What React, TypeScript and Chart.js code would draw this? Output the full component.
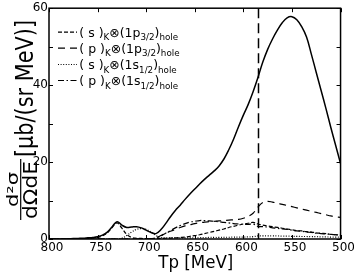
import React, { useEffect, useRef } from "react";
import { Chart, registerables } from "chart.js";

Chart.register(...registerables);

// ---------- data ----------
const TP = [
  800, 795, 790, 785, 780, 775, 770, 765, 760, 755,
  750, 745, 740, 735, 730, 725, 720, 715, 710, 705,
  700, 695, 690, 685, 680, 675, 670, 665, 660, 655,
  650, 645, 640, 635, 630, 625, 620, 615, 610, 605,
  600, 595, 590, 585, 580, 575, 570, 565, 560, 555,
  550, 545, 540, 535, 530, 525, 520, 515, 510, 505,
  500,
];

const total = [
  0, 0, 0, 0, 0.05, 0.1, 0.15, 0.2, 0.3, 0.4,
  0.6, 1.0, 1.8, 3.2, 4.5, 3.6, 3.0, 3.1, 3.2, 2.9,
  2.3, 1.7, 1.4, 2.4, 4.0, 5.8, 7.4, 8.8, 10.3, 11.7,
  13.0, 14.3, 15.5, 16.6, 17.7, 19.0, 20.8, 23.2, 26.0, 29.2,
  32.2, 35.0, 38.3, 42.0, 46.0, 49.3, 52.0, 54.3, 56.2, 57.5,
  57.8, 57.0, 55.2, 52.5, 48.0, 43.3, 38.6, 33.9, 29.0, 24.3,
  19.6,
];

// (s)K ⊗ (1p3/2)hole
const sP32 = [
  0, 0, 0, 0, 0, 0, 0, 0, 0.1, 0.2,
  0.4, 0.8, 1.6, 3.0, 4.2, 2.8, 1.2, 0.4, 0.2, 0.15,
  0.1, 0.1, 0.1, 0.15, 0.2, 0.25, 0.3, 0.4, 0.5, 0.7,
  0.9, 1.1, 1.4, 1.7, 2.0, 2.3, 2.6, 3.0, 3.3, 3.6,
  3.9, 4.1, 4.3, 3.9, 3.6, 3.4, 3.2, 3.0, 2.8, 2.6,
  2.4, 2.2, 2.1, 1.9, 1.8, 1.6, 1.5, 1.4, 1.2, 1.1,
  1.0,
];

// (p)K ⊗ (1p3/2)hole
const pP32 = [
  0, 0, 0, 0, 0, 0, 0, 0, 0, 0,
  0, 0, 0, 0, 0, 0, 0, 0, 0, 0,
  0, 0.05, 0.3, 0.9, 1.5, 2.0, 2.5, 3.0, 3.4, 3.7,
  4.0, 4.2, 4.4, 4.5, 4.6, 4.7, 4.8, 4.9, 5.0, 5.1,
  5.4, 5.9, 6.7, 8.3, 9.5, 9.8, 9.6, 9.3, 9.0, 8.7,
  8.4, 8.1, 7.8, 7.5, 7.2, 6.9, 6.6, 6.3, 6.0, 5.8,
  5.6,
];

// (s)K ⊗ (1s1/2)hole
const sS12 = [
  0, 0, 0, 0, 0, 0, 0, 0, 0, 0,
  0, 0, 0, 0, 0, 0.2, 0.9, 1.8, 2.5, 2.7,
  2.5, 1.8, 0.9, 0.4, 0.3, 0.3, 0.3, 0.3, 0.3, 0.3,
  0.3, 0.35, 0.35, 0.4, 0.4, 0.4, 0.45, 0.45, 0.5, 0.5,
  0.5, 0.55, 0.6, 0.8, 0.8, 0.8, 0.8, 0.8, 0.75, 0.75,
  0.7, 0.7, 0.65, 0.65, 0.6, 0.6, 0.55, 0.55, 0.5, 0.5,
  0.5,
];

// (p)K ⊗ (1s1/2)hole
const pS12 = [
  0, 0, 0, 0, 0, 0, 0, 0, 0, 0,
  0, 0, 0, 0, 0, 0, 0, 0, 0, 0,
  0, 0.1, 0.3, 0.8, 1.5, 2.2, 2.9, 3.5, 4.0, 4.4,
  4.6, 4.8, 4.8, 4.7, 4.6, 4.5, 4.3, 4.2, 4.0, 3.9,
  3.8, 3.8, 3.9, 3.3, 3.2, 3.1, 2.9, 2.8, 2.6, 2.5,
  2.3, 2.1, 2.0, 1.8, 1.7, 1.5, 1.4, 1.3, 1.2, 1.1,
  1.0,
];

const xTickValues = [800, 750, 700, 650, 600, 550, 500];
const yMinorTicks = [0, 10, 20, 30, 40, 50, 60];
const thresholdTp = 585;

const xTitle = "Tp [MeV]";
const yUnit = "[μb/(sr MeV)]";
const yNumer = "d²σ";
const yDenom = "dΩdE";

type Seg = [string, boolean];
const legendRows: Seg[][] = [
  [["( s )", false], ["K", true], ["⊗", false], ["(1p", false], ["3/2", true], [")", false], ["hole", true]],
  [["( p )", false], ["K", true], ["⊗", false], ["(1p", false], ["3/2", true], [")", false], ["hole", true]],
  [["( s )", false], ["K", true], ["⊗", false], ["(1s", false], ["1/2", true], [")", false], ["hole", true]],
  [["( p )", false], ["K", true], ["⊗", false], ["(1s", false], ["1/2", true], [")", false], ["hole", true]],
];

const FONT = "'DejaVu Sans', sans-serif";

const dashShort = [4, 2];
const dashLong = [7, 5];
const dashDot = [1, 1.6];
const dashDashDot = [6, 2.5, 1.5, 2.5];
const legendDashes = [dashShort, dashLong, dashDot, dashDashDot];

function pts(vals: number[]) {
  return TP.map((x, i) => ({ x, y: vals[i] }));
}

function drawRotFit(
  ctx: CanvasRenderingContext2D,
  text: string,
  cy: number,
  baseX: number,
  len: number,
  asc: number,
  refChar: string
) {
  ctx.save();
  ctx.font = `20px ${FONT}`;
  const w = ctx.measureText(text).width;
  const a = ctx.measureText(refChar).actualBoundingBoxAscent || 15;
  ctx.translate(baseX, cy);
  ctx.rotate(-Math.PI / 2);
  ctx.scale(len / w, asc / a);
  ctx.textAlign = "center";
  ctx.textBaseline = "alphabetic";
  ctx.fillStyle = "#000";
  ctx.fillText(text, 0, 0);
  ctx.restore();
}

const overlay = {
  id: "overlay",
  afterDatasetsDraw(chart: any) {
    const ctx: CanvasRenderingContext2D = chart.ctx;
    const { left, right, top, bottom } = chart.chartArea;
    const xs = chart.scales.x;
    const ys = chart.scales.y;

    // threshold vertical dashed line
    ctx.save();
    const tx = Math.round(xs.getPixelForValue(thresholdTp)) + 0.5;
    ctx.strokeStyle = "#000";
    ctx.lineWidth = 1.5;
    ctx.setLineDash([10, 5]);
    ctx.beginPath();
    ctx.moveTo(tx, top);
    ctx.lineTo(tx, bottom);
    ctx.stroke();
    ctx.restore();

    // frame
    ctx.save();
    ctx.strokeStyle = "#000";
    ctx.lineWidth = 1.5;
    ctx.strokeRect(left, top, right - left, bottom - top);
    // inward ticks
    ctx.lineWidth = 1;
    ctx.beginPath();
    const tl = 4;
    for (const v of xTickValues) {
      const px = Math.round(xs.getPixelForValue(v)) + 0.5;
      ctx.moveTo(px, bottom);
      ctx.lineTo(px, bottom - tl);
      ctx.moveTo(px, top);
      ctx.lineTo(px, top + tl);
    }
    for (const v of yMinorTicks) {
      const py = Math.round(ys.getPixelForValue(v)) + 0.5;
      ctx.moveTo(left, py);
      ctx.lineTo(left + tl, py);
      ctx.moveTo(right, py);
      ctx.lineTo(right - tl, py);
    }
    ctx.stroke();
    ctx.restore();

    // legend
    ctx.save();
    const baselines = [36.6, 52.7, 69, 85];
    const mainSize = 12.5;
    const subSize = 8.75;
    legendRows.forEach((row, i) => {
      const by = baselines[i];
      const ly = by - 4.5;
      ctx.strokeStyle = "#000";
      ctx.lineWidth = 1.2;
      ctx.setLineDash(legendDashes[i]);
      ctx.beginPath();
      ctx.moveTo(58, ly);
      ctx.lineTo(77, ly);
      ctx.stroke();
      ctx.setLineDash([]);
      let x = 79.3;
      ctx.fillStyle = "#000";
      ctx.textAlign = "left";
      ctx.textBaseline = "alphabetic";
      for (const [t, sub] of row) {
        ctx.font = `${sub ? subSize : mainSize}px ${FONT}`;
        ctx.fillText(t, x, sub ? by + 3.5 : by);
        x += ctx.measureText(t).width;
      }
    });
    ctx.restore();

    // y-axis label (rotated)
    drawRotFit(ctx, yUnit, 88.5, 33.3, 137, 17.3, "M");
    drawRotFit(ctx, yNumer, 189.5, 18.3, 35, 11.7, "d");
    drawRotFit(ctx, yDenom, 190, 36.7, 58, 14, "d");
    ctx.save();
    ctx.strokeStyle = "#000";
    ctx.lineWidth = 1.2;
    ctx.beginPath();
    ctx.moveTo(20.7, 159);
    ctx.lineTo(20.7, 220);
    ctx.stroke();
    ctx.restore();

    // x title
    ctx.save();
    ctx.font = `18px ${FONT}`;
    const w = ctx.measureText(xTitle).width;
    ctx.translate(195.8, 267.7);
    ctx.scale(75 / w, 1);
    ctx.textAlign = "center";
    ctx.textBaseline = "alphabetic";
    ctx.fillStyle = "#000";
    ctx.fillText(xTitle, 0, 0);
    ctx.restore();
  },
};

export default function App() {
  const ref = useRef<HTMLCanvasElement>(null);

  useEffect(() => {
    if (!ref.current) return;
    const common = {
      pointRadius: 0,
      borderColor: "#000",
      backgroundColor: "#000",
      fill: false,
      tension: 0.4,
    };
    const chart = new Chart(ref.current, {
      type: "line",
      data: {
        datasets: [
          { ...common, label: "total", data: pts(total), borderWidth: 1.5 },
          { ...common, label: "s1p32", data: pts(sP32), borderWidth: 1.2, borderDash: dashShort },
          { ...common, label: "p1p32", data: pts(pP32), borderWidth: 1.2, borderDash: dashLong },
          { ...common, label: "s1s12", data: pts(sS12), borderWidth: 1.2, borderDash: dashDot },
          { ...common, label: "p1s12", data: pts(pS12), borderWidth: 1.2, borderDash: dashDashDot },
        ],
      },
      options: {
        animation: false,
        responsive: false,
        devicePixelRatio: 1,
        layout: { padding: { top: 7, right: 13, left: 0, bottom: 0 } },
        plugins: { legend: { display: false }, tooltip: { enabled: false } },
        scales: {
          x: {
            type: "linear",
            reverse: true,
            min: 500,
            max: 800,
            afterFit: (s: any) => {
              s.height = 33;
            },
            grid: { display: false, drawTicks: false },
            border: { display: false },
            ticks: {
              stepSize: 50,
              padding: 2,
              labelOffset: 3,
              color: "#000",
              font: { family: FONT, size: 12 },
              maxRotation: 0,
            },
          },
          y: {
            type: "linear",
            min: 0,
            max: 60,
            afterFit: (s: any) => {
              s.width = 49;
            },
            grid: { display: false, drawTicks: false },
            border: { display: false },
            ticks: {
              stepSize: 20,
              padding: 1,
              color: "#000",
              font: { family: FONT, size: 12 },
            },
          },
        },
      },
      plugins: [overlay],
    });
    return () => chart.destroy();
  }, []);

  return (
    <div style={{ position: "absolute", left: 0, top: 0, width: 354, height: 272, background: "#fff" }}>
      <canvas ref={ref} width={354} height={272} style={{ display: "block", width: 354, height: 272 }} />
    </div>
  );
}
